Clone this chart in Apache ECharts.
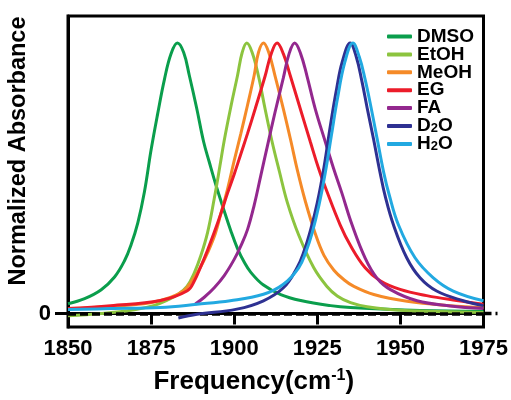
<!DOCTYPE html>
<html>
<head>
<meta charset="utf-8">
<script src="https://cdn.jsdelivr.net/npm/echarts@6/dist/echarts.min.js"></script>
<style>html,body{margin:0;padding:0;background:#fff}#c{width:511px;height:400px}</style>
</head>
<body>
<div id="c"></div>
<script>
const FONT = '"Liberation Sans", Arial, sans-serif';
const seriesNames = ['DMSO', 'EtOH', 'MeOH', 'EG', 'FA', 'D2O', 'H2O'];
const seriesColors = ['#0a9e4c', '#8cc43f', '#f58a28', '#ec1c2a', '#93288e', '#2e3192', '#22a9e1'];
const xTicks = [1850, 1875, 1900, 1925, 1950, 1975];

const dmsoX = [1850, 1855, 1860, 1864, 1867, 1869, 1871, 1873, 1875, 1877, 1879, 1881, 1882.9, 1884.8, 1886.5, 1888.7, 1890.8, 1892.5, 1894.5, 1896.7, 1899, 1901, 1903, 1905, 1908.7, 1914, 1920, 1929, 1935, 1956, 1975];
const dmsoY = [0.036, 0.055, 0.088, 0.135, 0.195, 0.255, 0.335, 0.45, 0.605, 0.74, 0.865, 0.96, 1.0, 0.965, 0.88, 0.76, 0.635, 0.56, 0.475, 0.39, 0.305, 0.24, 0.19, 0.152, 0.106, 0.07, 0.048, 0.029, 0.022, 0.011, 0.008];

const etohX = [1850, 1860, 1870, 1876, 1880, 1883, 1885.8, 1888, 1890, 1892, 1894, 1895.7, 1897, 1899, 1901, 1902.4, 1903.8, 1905.4, 1907.3, 1909.3, 1911.4, 1913.6, 1916, 1919.4, 1923.9, 1927.9, 1931, 1935, 1940, 1950, 1975];
const etohY = [-0.008, 0.0, 0.014, 0.03, 0.05, 0.07, 0.10, 0.15, 0.215, 0.30, 0.425, 0.545, 0.64, 0.765, 0.88, 0.965, 1.0, 0.965, 0.878, 0.756, 0.635, 0.525, 0.41, 0.29, 0.17, 0.10, 0.065, 0.04, 0.025, 0.012, 0.004];

const meohX = [1850, 1862.8, 1874.8, 1880.8, 1884.8, 1887, 1889.8, 1892, 1894.3, 1896, 1898, 1900, 1902, 1904, 1906, 1907.3, 1908.8, 1910.4, 1912.3, 1914.8, 1917.1, 1919, 1921.4, 1924.4, 1927, 1930, 1933, 1936, 1942, 1952, 1965, 1975];
const meohY = [0.018, 0.026, 0.040, 0.059, 0.084, 0.115, 0.17, 0.225, 0.295, 0.37, 0.46, 0.565, 0.665, 0.77, 0.88, 0.965, 1.0, 0.965, 0.878, 0.756, 0.635, 0.53, 0.415, 0.295, 0.215, 0.16, 0.125, 0.10, 0.07, 0.045, 0.029, 0.022];

const egX = [1850, 1862.8, 1877.8, 1885.9, 1888, 1890, 1892, 1894, 1896, 1898, 1900, 1902, 1904, 1906.3, 1909.3, 1911, 1912.9, 1914.8, 1916.9, 1919.9, 1922.9, 1925.4, 1927.9, 1931.9, 1934.9, 1939.4, 1943.9, 1949.9, 1957.9, 1966.9, 1975];
const egY = [0.018, 0.029, 0.048, 0.084, 0.12, 0.175, 0.235, 0.30, 0.37, 0.445, 0.515, 0.59, 0.665, 0.756, 0.878, 0.955, 1.0, 0.96, 0.878, 0.756, 0.635, 0.536, 0.451, 0.327, 0.253, 0.169, 0.121, 0.089, 0.066, 0.048, 0.034];

const faX = [1888.3, 1891, 1894, 1897, 1900, 1902, 1904, 1906, 1908, 1910, 1912.3, 1914.8, 1916.5, 1918.2, 1920, 1921.9, 1924.4, 1927.4, 1929.9, 1932.4, 1935.4, 1939.4, 1943, 1947, 1955, 1965, 1975];
const faY = [0.035, 0.06, 0.095, 0.14, 0.20, 0.25, 0.31, 0.40, 0.51, 0.62, 0.745, 0.872, 0.96, 1.0, 0.96, 0.878, 0.756, 0.635, 0.536, 0.445, 0.33, 0.205, 0.13, 0.088, 0.047, 0.028, 0.018];

const d2oX = [1883.2, 1888.8, 1900.8, 1908.8, 1914.8, 1918.9, 1921, 1923, 1925, 1927, 1929, 1930.8, 1932.5, 1934.9, 1936.7, 1938.4, 1940, 1941.9, 1943.9, 1945.5, 1947.9, 1951.9, 1955.9, 1960.9, 1968.9, 1975];
const d2oY = [-0.017, -0.003, 0.016, 0.047, 0.095, 0.169, 0.23, 0.31, 0.41, 0.54, 0.70, 0.83, 0.93, 1.0, 0.95, 0.86, 0.76, 0.646, 0.52, 0.43, 0.328, 0.206, 0.132, 0.083, 0.047, 0.029];

const h2oX = [1850, 1862.8, 1877.8, 1888.8, 1898.8, 1908.8, 1914.8, 1919.4, 1921.5, 1923.5, 1925.5, 1927.4, 1929.2, 1931, 1933.3, 1935.7, 1937.6, 1939.3, 1941.2, 1943.1, 1945, 1946.6, 1949.4, 1954.4, 1959.9, 1965.9, 1975];
const h2oY = [0.015, 0.018, 0.022, 0.034, 0.047, 0.071, 0.108, 0.169, 0.225, 0.30, 0.40, 0.52, 0.655, 0.79, 0.93, 1.0, 0.95, 0.87, 0.76, 0.64, 0.52, 0.44, 0.328, 0.206, 0.132, 0.083, 0.047];

const allX = [dmsoX, etohX, meohX, egX, faX, d2oX, h2oX];
const allY = [dmsoY, etohY, meohY, egY, faY, d2oY, h2oY];

function zip(xs, ys) { return xs.map((x, i) => [x, ys[i]]); }

const chart = echarts.init(document.getElementById('c'), null, { renderer: 'canvas' });

const series = seriesNames.map((name, i) => {
  const s = {
    name: name,
    type: 'line',
    data: zip(allX[i], allY[i]),
    smooth: 0.4,
    showSymbol: false,
    symbol: 'none',
    lineStyle: { color: seriesColors[i], width: 3 },
    itemStyle: { color: seriesColors[i] },
    animation: false,
    z: 2 + i
  };
  if (i === seriesNames.length - 1) {
    s.markLine = {
      silent: true,
      symbol: ['none', 'none'],
      label: { show: false },
      lineStyle: { color: '#000', width: 3.5, type: [8, 4] },
      data: [{ yAxis: 0 }],
      animation: false
    };
  }
  return s;
});

function legendFmt(name) {
  if (name === 'D2O') return '{n|D}{s|2}{n|O}';
  if (name === 'H2O') return '{n|H}{s|2}{n|O}';
  return '{n|' + name + '}';
}

chart.setOption({
  animation: false,
  backgroundColor: '#fff',
  grid: { left: 68, right: 27.5, top: 16, bottom: 70, show: true, borderColor: '#000', borderWidth: 3, backgroundColor: 'transparent' },
  legend: {
    orient: 'vertical',
    left: 387,
    top: 27,
    padding: 0,
    itemGap: -1.1,
    itemWidth: 25,
    itemHeight: 4,
    icon: 'roundRect',
    data: seriesNames,
    formatter: legendFmt,
    textStyle: {
      color: '#000',
      fontFamily: FONT,
      fontWeight: 'bold',
      fontSize: 19,
      lineHeight: 17.7,
      rich: {
        n: { fontSize: 19, fontWeight: 'bold', fontFamily: FONT, color: '#000', lineHeight: 17.7 },
        s: { fontSize: 13, fontWeight: 'bold', fontFamily: FONT, color: '#000', lineHeight: 5, verticalAlign: 'bottom' }
      }
    }
  },
  xAxis: {
    type: 'value',
    min: 1850,
    max: 1975,
    interval: 25,
    axisLine: { show: true, lineStyle: { color: '#000', width: 3 } },
    axisTick: { show: true, inside: false, length: 11, lineStyle: { color: '#000', width: 3 } },
    axisLabel: { color: '#000', fontFamily: FONT, fontWeight: 'bold', fontSize: 22, margin: 11,
      customValues: xTicks, formatter: function (v) { return String(v); } },
    splitLine: { show: false },
    name: '{t|Frequency(cm}{sup|-1}{t|)}',
    nameLocation: 'middle',
    nameGap: 41,
    nameTextStyle: {
      padding: [0, 44, 0, 0],
      rich: {
        t: { fontFamily: FONT, fontWeight: 'bold', fontSize: 26, color: '#000', lineHeight: 28 },
        sup: { fontFamily: FONT, fontWeight: 'bold', fontSize: 16, color: '#000', lineHeight: 14, verticalAlign: 'top' }
      }
    }
  },
  yAxis: {
    type: 'value',
    min: -0.05,
    max: 1.1,
    axisLine: { show: true, onZero: false, lineStyle: { color: '#000', width: 3 } },
    axisTick: { show: true, length: 13, lineStyle: { color: '#000', width: 3 }, customValues: [0] },
    axisLabel: { color: '#000', fontFamily: FONT, fontWeight: 'bold', fontSize: 22, margin: 17, customValues: [0] },
    splitLine: { show: false }
  },
  series: series
});

// y-axis title and extension of the dashed zero line beyond the frame
const zeroPx = chart.convertToPixel({ gridIndex: 0 }, [1975, 0]);
chart.setOption({
  graphic: [
    {
      type: 'text',
      x: 19,
      y: 151,
      rotation: Math.PI / 2,
      style: {
        text: 'Normalized Absorbance',
        fontFamily: FONT,
        fontWeight: 'bold',
        fontSize: 23.5,
        fill: '#000',
        align: 'center',
        verticalAlign: 'middle'
      }
    },
    {
      type: 'line',
      shape: { x1: zeroPx[0], y1: zeroPx[1], x2: zeroPx[0] + 14, y2: zeroPx[1] },
      style: { stroke: '#000', lineWidth: 3.5, lineDash: [8, 4] },
      z: 10
    }
  ]
});
</script>
</body>
</html>
